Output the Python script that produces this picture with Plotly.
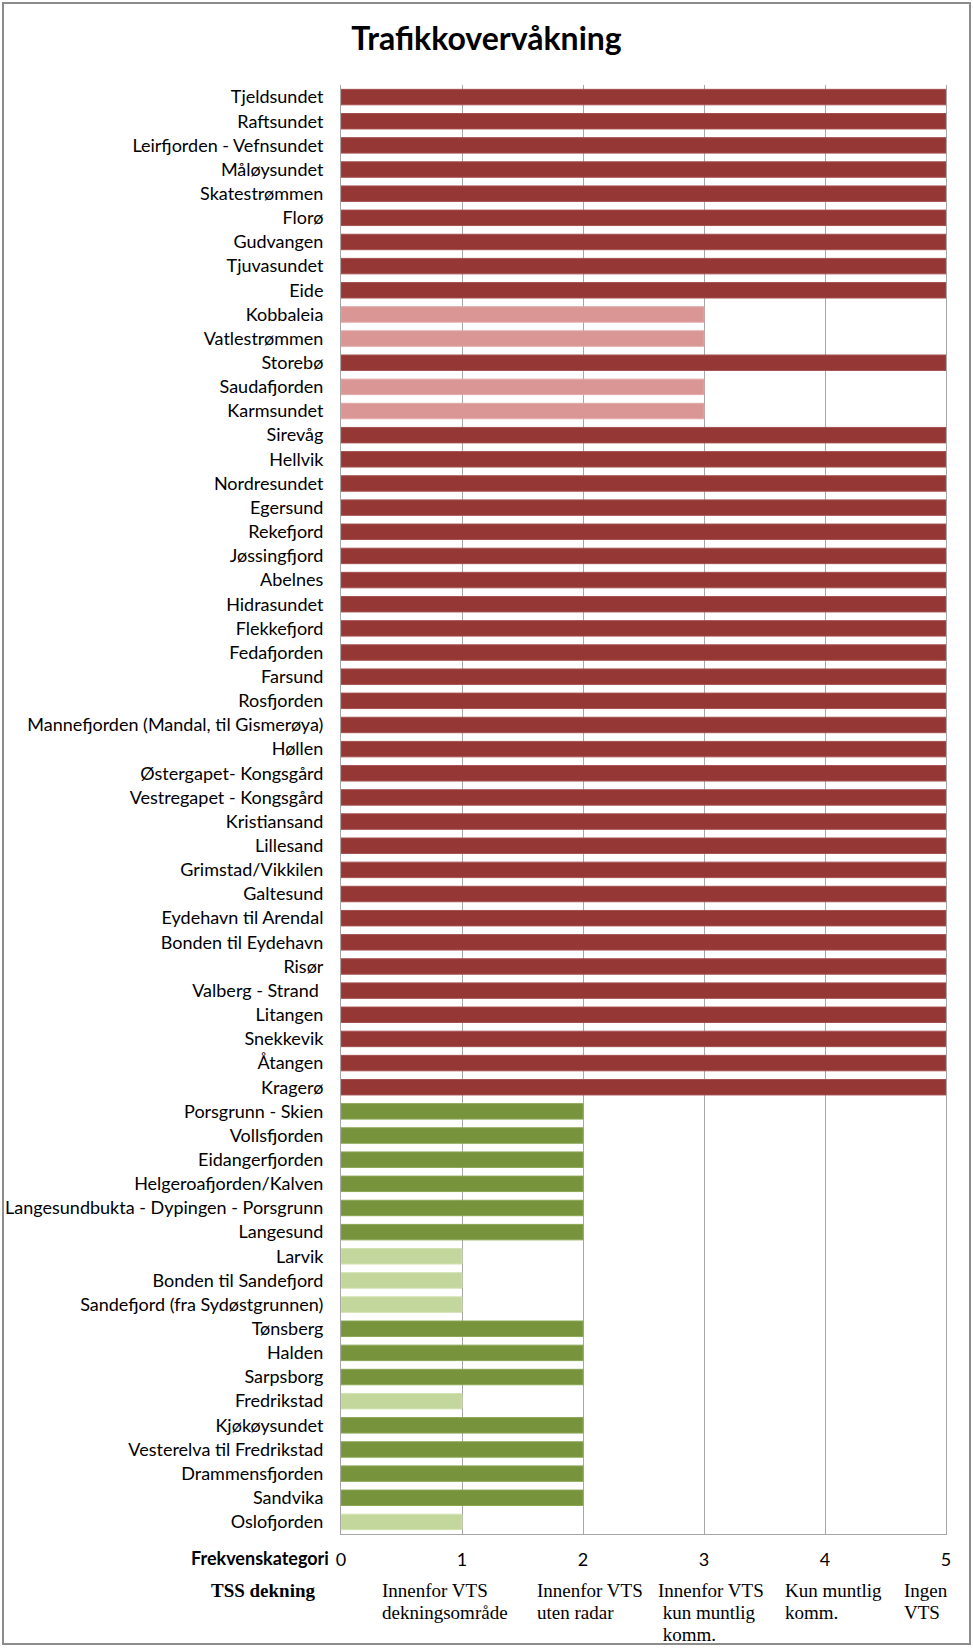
import plotly.graph_objects as go

# ---- data ----
locations = [
    "Tjeldsundet", "Raftsundet", "Leirfjorden - Vefnsundet", "Måløysundet", "Skatestrømmen",
    "Florø", "Gudvangen", "Tjuvasundet", "Eide", "Kobbaleia", "Vatlestrømmen", "Storebø",
    "Saudafjorden", "Karmsundet", "Sirevåg", "Hellvik", "Nordresundet", "Egersund",
    "Rekefjord", "Jøssingfjord", "Abelnes", "Hidrasundet", "Flekkefjord", "Fedafjorden",
    "Farsund", "Rosfjorden", "Mannefjorden (Mandal, til Gismerøya)", "Høllen",
    "Østergapet- Kongsgård", "Vestregapet - Kongsgård", "Kristiansand", "Lillesand",
    "Grimstad/Vikkilen", "Galtesund", "Eydehavn til Arendal", "Bonden til Eydehavn", "Risør",
    "Valberg - Strand ", "Litangen", "Snekkevik", "Åtangen", "Kragerø", "Porsgrunn - Skien",
    "Vollsfjorden", "Eidangerfjorden", "Helgeroafjorden/Kalven",
    "Langesundbukta - Dypingen - Porsgrunn", "Langesund", "Larvik", "Bonden til Sandefjord",
    "Sandefjord (fra Sydøstgrunnen)", "Tønsberg", "Halden", "Sarpsborg", "Fredrikstad",
    "Kjøkøysundet", "Vesterelva til Fredrikstad", "Drammensfjorden", "Sandvika", "Oslofjorden",
]
frekvens = [
    5, 5, 5, 5, 5, 5, 5, 5, 5, 3, 3, 5, 3, 3, 5, 5, 5, 5, 5, 5, 5, 5, 5, 5, 5, 5, 5, 5, 5, 5,
    5, 5, 5, 5, 5, 5, 5, 5, 5, 5, 5, 5, 2, 2, 2, 2, 2, 2, 1, 1, 1, 2, 2, 2, 1, 2, 2, 2, 2, 1,
]
tick_values = [0, 1, 2, 3, 4, 5]
tss_labels = [
    ["Innenfor VTS", "dekningsområde"],
    ["Innenfor VTS", "uten radar"],
    ["Innenfor VTS", " kun muntlig", " komm."],
    ["Kun muntlig", "komm."],
    ["Ingen", "VTS"],
]

# ---- style ----
color_by_value = {5: "#953735", 3: "#D99694", 2: "#77933C", 1: "#C3D69B"}
edge_by_value = {5: "#a4504e", 3: "#e2a9a7", 2: "#8aa653", 1: "#d2e2b0"}
tss_offsets = [0.32, 1.60, 2.60, 3.65, 4.64]

W, H = 973, 1648
L, R, T, B = 341, 27, 85, 114
pw, ph = W - L - R, H - T - B

fig = go.Figure(go.Bar(
    x=frekvens, y=locations, orientation="h",
    marker=dict(color=[color_by_value[v] for v in frekvens],
                line=dict(color=[edge_by_value[v] for v in frekvens], width=1)),
    hoverinfo="x+y",
))

fig.update_layout(
    width=W, height=H,
    margin=dict(l=L, r=R, t=T, b=B, autoexpand=False),
    paper_bgcolor="white", plot_bgcolor="white",
    bargap=0.36,
    showlegend=False,
    font=dict(family="Lato, sans-serif", color="#000000", size=18),
    title=dict(text="<b>Trafikkovervåkning</b>", x=0.5, xanchor="center", xref="container",
               y=1 - 39 / H, yanchor="middle",
               font=dict(family="Lato, sans-serif", size=32, color="#000000")),
)

fig.update_xaxes(
    range=[0, 5], tickvals=tick_values, ticktext=[str(v) for v in tick_values],
    showgrid=True, gridcolor="#a6a6a6", gridwidth=1,
    showline=True, linecolor="#a6a6a6", linewidth=1,
    zeroline=False, ticks="", ticklabelstandoff=9, automargin=False,
    tickfont=dict(family="Lato, sans-serif", size=18, color="#000000"),
    fixedrange=True,
)
fig.update_yaxes(
    categoryorder="array", categoryarray=locations,
    range=[len(locations) - 0.5, -0.5],
    showgrid=False, showline=True, mirror=True, linecolor="#a6a6a6", linewidth=1,
    ticks="", ticklabelstandoff=13, automargin=False,
    tickfont=dict(family="Lato, sans-serif", size=18, color="#000000"),
    fixedrange=True,
)

def py(px):
    return (H - B - px) / ph

def pxr(px):
    return (px - L) / pw

serif = "Liberation Serif, Times New Roman, serif"
annotations = [
    dict(text="<b>Frekvenskategori</b>", xref="paper", yref="paper",
         x=pxr(331), y=py(1558), xanchor="right", yanchor="middle", showarrow=False,
         font=dict(family="Lato, sans-serif", size=18, color="#000000")),
    dict(text="<b>TSS dekning</b>", xref="paper", yref="paper",
         x=pxr(318), y=py(1590), xanchor="right", yanchor="middle", showarrow=False,
         font=dict(family=serif, size=19, color="#000000")),
]
line_step = 22
for off, lines in zip(tss_offsets, tss_labels):
    for i, line in enumerate(lines):
        annotations.append(dict(
            text=line.replace(" ", "&nbsp;", 1) if line.startswith(" ") else line,
            xref="x", yref="paper", x=off, y=py(1590 + i * line_step),
            xanchor="left", yanchor="middle", showarrow=False,
            font=dict(family=serif, size=19, color="#000000"),
        ))
fig.update_layout(annotations=annotations)

fig.add_shape(type="rect", xref="paper", yref="paper",
              x0=pxr(3), x1=pxr(970), y0=py(1644), y1=py(3),
              line=dict(color="#8c8c8c", width=2), fillcolor="rgba(0,0,0,0)", layer="below")

fig.write_html(
    "out.html",
    config={"displayModeBar": False},
    post_script="document.body.style.margin='0';document.body.style.overflow='hidden';",
)
